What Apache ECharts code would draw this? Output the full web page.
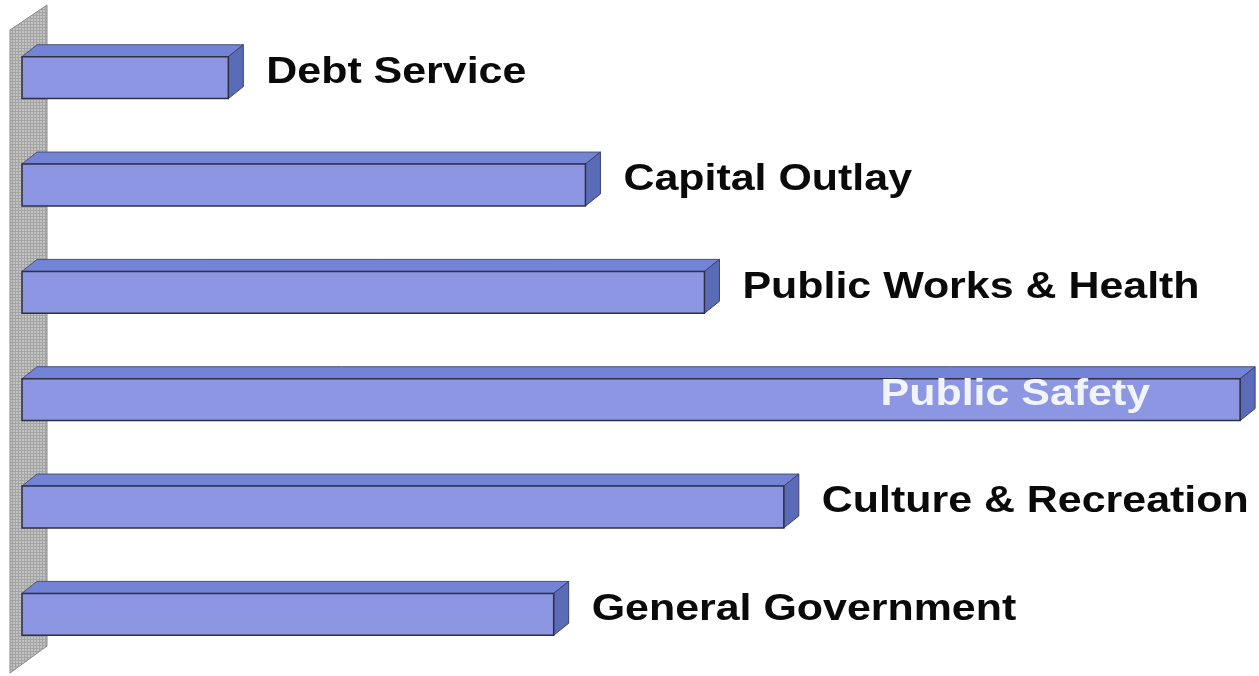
<!DOCTYPE html>
<html>
<head>
<meta charset="utf-8">
<script src="https://cdn.jsdelivr.net/npm/echarts@6/dist/echarts.min.js"></script>
<style>
  html, body { margin: 0; padding: 0; background: #ffffff; }
  #chart { width: 1259px; height: 676px; }
</style>
</head>
<body>
<div id="chart"></div>
<script>
// Spending by function, share of total (%), listed top to bottom
const categories = [
  'Debt Service',
  'Capital Outlay',
  'Public Works & Health',
  'Public Safety',
  'Culture & Recreation',
  'General Government'
];
const shares = [5.2, 14.2, 17.2, 30.7, 19.2, 13.4];

// Fine grid texture for the back wall
function wallPattern() {
  const c = document.createElement('canvas');
  c.width = 3; c.height = 3;
  const g = c.getContext('2d');
  g.fillStyle = '#c2c2c2';
  g.fillRect(0, 0, 3, 3);
  g.fillStyle = '#a4a4a4';
  g.fillRect(0, 0, 1, 3);
  g.fillRect(0, 0, 3, 1);
  return { image: c, repeat: 'repeat' };
}
const wallFill = wallPattern();

const DX = 15, DY = 12;          // extrusion depth of each box
const FRONT_RATIO = 0.39;        // front face height relative to band
const TEXT_STRETCH = 1.16;       // labels are set wide
const maxShare = Math.max.apply(null, shares);

function renderWall(params, api) {
  const cs = params.coordSys;
  const l = cs.x, t = cs.y, b = cs.y + cs.height;
  return {
    type: 'polygon',
    silent: true,
    shape: { points: [
      [l - 12, t + 6], [l + 25, t - 19],
      [l + 25, b - 22], [l - 12, b + 5]
    ] },
    style: { fill: wallFill, stroke: '#8a8a8a', lineWidth: 1 }
  };
}

function renderBar(params, api) {
  const cat = api.value(1);
  const v = api.value(0);
  const p0 = api.coord([0, cat]);
  const p1 = api.coord([v, cat]);
  const band = api.size([0, 1])[1];
  const h = band * FRONT_RATIO;
  const x0 = p0[0], x1 = p1[0];
  const y0 = p0[1] - h / 2, y1 = p0[1] + h / 2;
  const boxMid = (y0 - DY + y1) / 2;
  const inside = v === maxShare;
  const name = categories[params.dataIndex];

  return {
    type: 'group',
    children: [
      {
        type: 'polygon',
        shape: { points: [[x0, y0], [x0 + DX, y0 - DY], [x1 + DX, y0 - DY], [x1, y0]] },
        style: { fill: '#7384d7', stroke: '#4a4f78', lineWidth: 1 }
      },
      {
        type: 'polygon',
        shape: { points: [[x1, y0], [x1 + DX, y0 - DY], [x1 + DX, y1 - DY], [x1, y1]] },
        style: { fill: '#5a6bb8', stroke: '#3c4066', lineWidth: 1 }
      },
      {
        type: 'rect',
        shape: { x: x0, y: y0, width: x1 - x0, height: h },
        style: { fill: '#8c96e2', stroke: '#2e3040', lineWidth: 1.5 }
      },
      {
        type: 'text',
        x: inside ? x1 - 90 : x1 + 38,
        y: boxMid + 1,
        scaleX: TEXT_STRETCH,
        style: {
          text: name,
          fill: inside ? '#f2f4fb' : '#0a0a0a',
          font: 'bold 37px "Liberation Sans", Arial, sans-serif',
          align: inside ? 'right' : 'left',
          verticalAlign: 'middle'
        }
      }
    ]
  };
}

const chart = echarts.init(document.getElementById('chart'), null, { renderer: 'canvas' });
chart.setOption({
  backgroundColor: '#ffffff',
  animation: false,
  grid: { left: 22, top: 24, right: 7, bottom: 8 },
  xAxis: { type: 'value', min: 0, max: 31, show: false },
  yAxis: { type: 'category', data: categories, inverse: true, show: false },
  series: [
    {
      type: 'custom',
      silent: true,
      renderItem: renderWall,
      data: [[0, 0]],
      encode: { x: 0, y: 1 },
      z: 1
    },
    {
      type: 'custom',
      renderItem: renderBar,
      data: shares.map((s, i) => [s, i]),
      encode: { x: 0, y: 1 },
      z: 2
    }
  ]
});
</script>
</body>
</html>
